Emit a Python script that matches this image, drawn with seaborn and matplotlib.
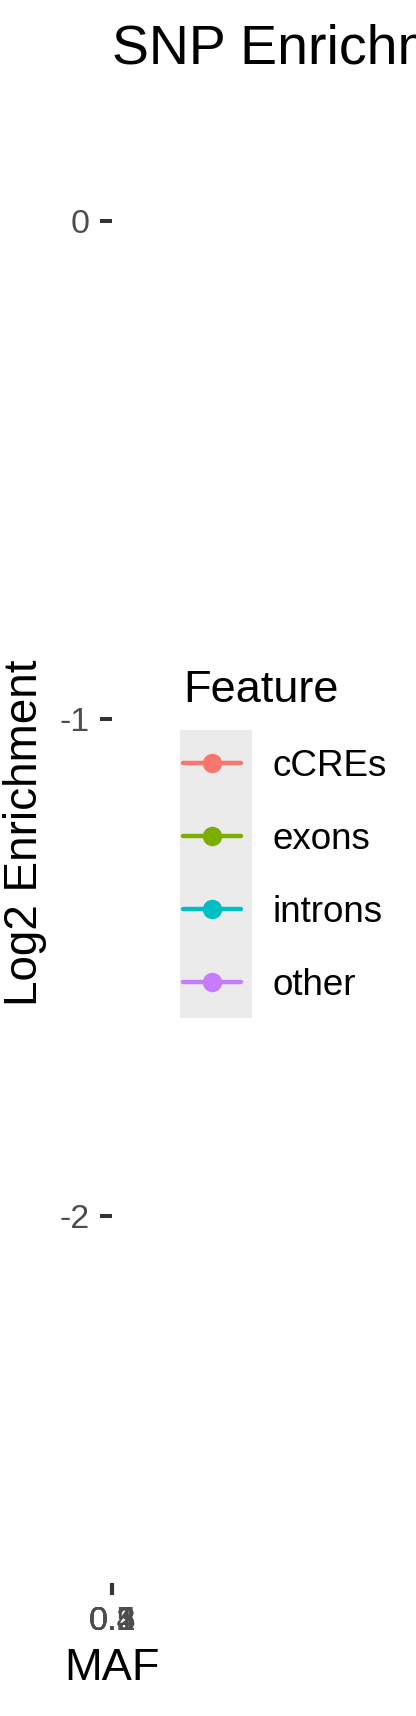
"""
SNP enrichment by MAF, one line per feature
(panel is squeezed to zero width, only axes + legend show)
"""

import numpy as np
import pandas as pd
import matplotlib
matplotlib.use("Agg")
import matplotlib.pyplot as plt
import seaborn as sns
from matplotlib.patches import Rectangle

maf = [0.1, 0.2, 0.3, 0.4, 0.5]
features = ["cCREs", "exons", "introns", "other"]
enrich_ccres = [0.14, 0.08, 0.03, -0.01, -0.04]
enrich_exons = [-2.6, -2.1, -1.7, -1.4, -1.2]
enrich_introns = [-0.35, -0.3, -0.27, -0.25, -0.24]
enrich_other = [-0.6, -0.55, -0.5, -0.47, -0.45]
colors = ["#F8766D", "#7CAE00", "#00BFC4", "#C77CFF"]

df = pd.DataFrame({
    "MAF": maf * 4,
    "Log2 Enrichment": enrich_ccres + enrich_exons + enrich_introns + enrich_other,
    "Feature": np.repeat(features, len(maf)),
})

sns.set_style("white")
plt.rcParams["font.family"] = ["Liberation Sans", "DejaVu Sans"]
plt.rcParams["axes.unicode_minus"] = False
plt.rcParams["text.color"] = "black"
plt.rcParams["axes.labelcolor"] = "black"

fig = plt.figure(figsize=(4.16, 17.16), dpi=100)
# panel has no width at all
ax = fig.add_axes([112 / 416, (1716 - 1583) / 1716, 0.0, (1583 - 83) / 1716])

sns.lineplot(data=df, x="MAF", y="Log2 Enrichment", hue="Feature",
             palette=colors, marker="o", markersize=14, linewidth=3.2,
             markeredgewidth=0, ax=ax, legend=True)
ax.margins(y=0.05)
for s in ax.spines.values():
    s.set_visible(False)
ax.grid(False)

# zero width panel -> nothing of the data shows
for ln in ax.lines:
    ln.set_clip_path(Rectangle((0, 0), 0, 0, transform=ax.transAxes))

ax.set_xticks(maf)
ax.set_xticklabels([str(m) for m in maf])
ax.set_yticks([-2, -1, 0])
ax.set_yticklabels(["-2", "-1", "0"])
ax.tick_params(axis="both", left=True, bottom=True, length=8.6, width=2.9,
               color="#333333", labelcolor="#4D4D4D", labelsize=24.5)
ax.tick_params(axis="y", pad=7.2)
ax.tick_params(axis="x", pad=8)

ax.set_xlabel("MAF", fontsize=32.5, labelpad=8)
ax.set_ylabel("Log2 Enrichment", fontsize=33, labelpad=9.5)
ax.set_title("SNP Enrichment by Minor Allele Frequency", loc="left",
             fontsize=40, pad=13.5)

handles, labels = ax.get_legend_handles_labels()
ax.get_legend().remove()

# grey key background like ggplot
fig.patches.append(Rectangle((180 / 416, (1716 - 1018) / 1716), 72 / 416, 288 / 1716,
                             transform=fig.transFigure, facecolor="#EBEBEB",
                             edgecolor="none", zorder=0))

leg = fig.legend(handles, labels, title="Feature", loc="upper left",
                 bbox_to_anchor=(183 / 416, 1 - 670 / 1716),
                 frameon=False, fontsize=26.5, title_fontsize=32.5,
                 handlelength=1.58, handletextpad=0.85, labelspacing=1.03,
                 borderpad=0, borderaxespad=0, alignment="left")

fig.savefig("out.png", dpi=100)
